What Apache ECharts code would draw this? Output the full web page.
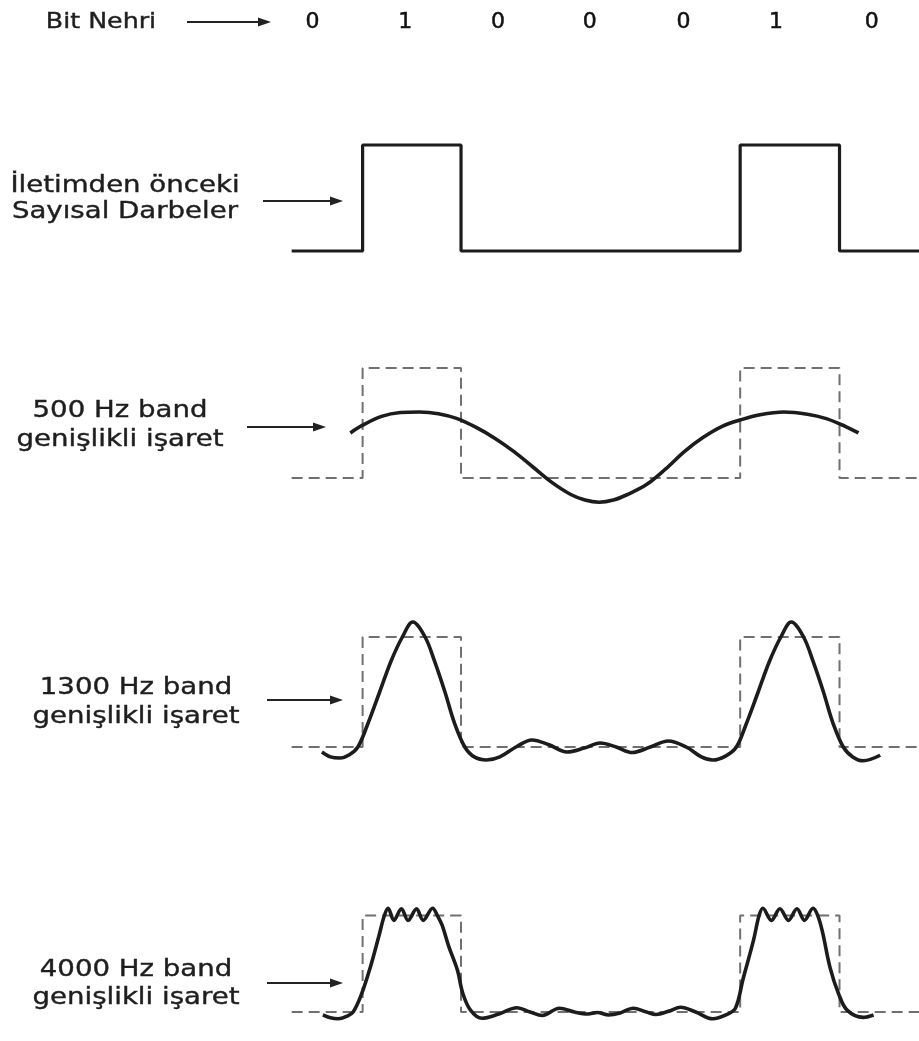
<!DOCTYPE html>
<html><head><meta charset="utf-8">
<script src="https://cdn.jsdelivr.net/npm/echarts@6/dist/echarts.min.js"></script>
<style>html,body{margin:0;padding:0;background:#fff}#c{width:919px;height:1041px}</style>
</head><body><div id="c"></div>
<script>
// ---- data (time in bit periods) ----
const bits = [0, 1, 0, 0, 0, 1, 0];
const bitLabelPos = [0.47, 1.45, 2.43, 3.40, 4.39, 5.37, 6.38];
const bitEdges = [0.25, 1.0, 2.04, 3.0, 4.0, 4.99, 6.04, 6.88];

const sig500 = [[0.87,0.41],[1.0,0.48],[1.2,0.56],[1.4,0.595],[1.6,0.6],[1.8,0.585],[2.0,0.54],[2.2,0.46],[2.4,0.36],[2.6,0.24],[2.8,0.1],[3.0,-0.04],[3.2,-0.15],[3.35,-0.2],[3.5,-0.22],[3.65,-0.2],[3.8,-0.15],[4.0,-0.06],[4.2,0.08],[4.4,0.24],[4.6,0.37],[4.8,0.47],[5.0,0.53],[5.2,0.575],[5.45,0.6],[5.7,0.58],[5.9,0.54],[6.1,0.47],[6.24,0.41]];

const sig1300 = [[0.57,-0.045],[0.66,-0.09],[0.76,-0.1],[0.86,-0.07],[0.95,0.0],[1.05,0.2],[1.18,0.5],[1.30,0.78],[1.42,1.0],[1.53,1.136],[1.66,1.0],[1.76,0.78],[1.87,0.5],[1.97,0.22],[2.08,0.0],[2.18,-0.09],[2.31,-0.118],[2.45,-0.09],[2.62,0.0],[2.79,0.064],[2.97,0.02],[3.16,-0.045],[3.34,-0.01],[3.51,0.036],[3.68,0.0],[3.85,-0.05],[4.04,0.0],[4.23,0.055],[4.42,0.0],[4.58,-0.09],[4.70,-0.118],[4.84,-0.08],[4.95,0.0],[5.05,0.2],[5.18,0.5],[5.30,0.78],[5.42,1.0],[5.53,1.136],[5.66,1.0],[5.76,0.78],[5.87,0.5],[5.97,0.22],[6.08,0.0],[6.18,-0.09],[6.29,-0.125],[6.47,-0.075]];

const sig4000 = [[0.58,-0.03],[0.66,-0.06],[0.74,-0.07],[0.83,-0.045],[0.90,0.0],[0.99,0.19],[1.08,0.46],[1.17,0.78],[1.23,1.0],[1.27,1.075],[1.33,0.95],[1.41,1.07],[1.48,0.95],[1.57,1.07],[1.64,0.95],[1.74,1.075],[1.79,1.0],[1.84,0.9],[1.91,0.68],[2.0,0.44],[2.06,0.19],[2.14,0.02],[2.26,-0.065],[2.44,-0.02],[2.63,0.045],[2.77,0.0],[2.9,-0.035],[3.08,0.04],[3.24,0.0],[3.38,-0.02],[3.48,-0.005],[3.6,-0.03],[3.72,-0.01],[3.86,0.04],[4.0,0.0],[4.1,-0.025],[4.24,0.01],[4.36,0.05],[4.52,0.0],[4.70,-0.07],[4.84,-0.03],[4.94,0.04],[5.02,0.34],[5.13,0.74],[5.19,1.0],[5.23,1.075],[5.32,0.95],[5.41,1.07],[5.5,0.95],[5.59,1.07],[5.67,0.95],[5.76,1.075],[5.81,1.0],[5.86,0.83],[5.94,0.46],[6.03,0.19],[6.12,0.02],[6.29,-0.055],[6.40,-0.03]];

const headerText = 'Bit Nehri';
const panelLabels = [
  ['İletimden önceki', 'Sayısal Darbeler'],
  ['500 Hz band', 'genişlikli işaret'],
  ['1300 Hz band', 'genişlikli işaret'],
  ['4000 Hz band', 'genişlikli işaret']
];

// ---- layout ----
const X0 = 268, XMAX = 6.88;
const panels = [ // pixel rows of level 1 (high) and level 0 (low)
  {high: 145, low: 251},
  {high: 368, low: 478},
  {high: 637, low: 747},
  {high: 919, low: 1027}
];
const YMIN = -0.3, YMAX = 1.3;
const labelPos = [
  {x: 125, y1: 186, y2: 212, ay: 201, ax1: 263, ax2: 343},
  {x: 120, y1: 411, y2: 440, ay: 427, ax1: 247, ax2: 326},
  {x: 136, y1: 688, y2: 717, ay: 700, ax1: 267, ax2: 343},
  {x: 136, y1: 970, y2: 998, ay: 983, ax1: 267, ax2: 343}
];

const stepData = bits.map((b, k) => [bitEdges[k], b]).concat([[bitEdges[bits.length], bits[bits.length - 1]]]);

const grids = [{left: X0, right: 0, top: 8, height: 28}];
const xAxes = [{gridIndex: 0, type: 'value', min: 0, max: XMAX, show: false}];
const yAxes = [{gridIndex: 0, type: 'value', min: 0, max: 1, show: false}];
panels.forEach((p, i) => {
  const s = p.low - p.high;
  grids.push({left: X0, right: 0, top: p.high - (YMAX - 1) * s, height: (YMAX - YMIN) * s});
  xAxes.push({gridIndex: i + 1, type: 'value', min: 0, max: XMAX, show: false});
  yAxes.push({gridIndex: i + 1, type: 'value', min: YMIN, max: YMAX, show: false});
});

const dark = '#1c1c1c';
const series = [
  {
    type: 'scatter', xAxisIndex: 0, yAxisIndex: 0, symbolSize: 1, clip: false,
    itemStyle: {color: '#ffffff', opacity: 1},
    data: bits.map((b, k) => [bitLabelPos[k], 0.5, b]),
    label: {show: true, position: 'inside', formatter: p => String(p.value[2]),
      color: '#111111', opacity: 1, fontSize: 22, fontFamily: 'DejaVu Sans',
      textBorderColor: '#111111', textBorderWidth: 0.5}
  },
  {
    type: 'line', xAxisIndex: 1, yAxisIndex: 1, step: 'end', symbol: 'none',
    data: stepData, lineStyle: {color: dark, width: 3.2}
  }
];
[2, 3, 4].forEach(gi => {
  series.push({
    type: 'line', xAxisIndex: gi, yAxisIndex: gi, step: 'end', symbol: 'none',
    data: stepData, lineStyle: {color: '#707070', width: 2, type: [11, 6]}
  });
});
[[2, sig500], [3, sig1300], [4, sig4000]].forEach(([gi, d]) => {
  series.push({
    type: 'line', xAxisIndex: gi, yAxisIndex: gi, smooth: 0.35, symbol: 'none',
    data: d, lineStyle: {color: dark, width: 3.6}
  });
});

function arrow(x1, x2, y) {
  return [
    {type: 'line', shape: {x1: x1, y1: y, x2: x2 - 6, y2: y}, style: {stroke: '#222', lineWidth: 1.8}},
    {type: 'polygon', shape: {points: [[x2, y], [x2 - 13, y - 4.5], [x2 - 13, y + 4.5]]}, style: {fill: '#222'}}
  ];
}
function txt(t, x, y, size, sx) {
  return {type: 'text', x: x, y: y, scaleX: sx,
    style: {text: t, fontSize: size, fontFamily: 'DejaVu Sans', fill: '#1e1e1e',
      stroke: '#1e1e1e', lineWidth: 0.4,
      align: 'center', verticalAlign: 'middle', textAlign: 'center', textVerticalAlign: 'middle'}};
}
const graphics = [];
graphics.push(txt(headerText, 101, 22, 22, 1.15));
graphics.push(...arrow(187, 271, 22));
panelLabels.forEach((lines, i) => {
  const lp = labelPos[i];
  graphics.push(txt(lines[0], lp.x, lp.y1, 23, 1.2));
  graphics.push(txt(lines[1], lp.x, lp.y2, 23, 1.2));
  graphics.push(...arrow(lp.ax1, lp.ax2, lp.ay));
});

const chart = echarts.init(document.getElementById('c'));
chart.setOption({
  backgroundColor: '#ffffff',
  animation: false,
  grid: grids, xAxis: xAxes, yAxis: yAxes,
  series: series,
  graphic: graphics
});
</script></body></html>
